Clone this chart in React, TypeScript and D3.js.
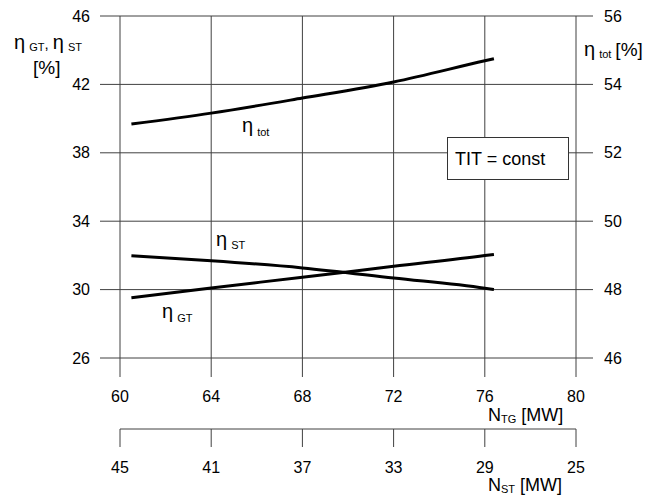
import React from "react";
import * as d3 from "d3";

const ntg = [60.5, 64, 68, 72, 76, 76.4];
const etaTot = [52.84, 53.16, 53.6, 54.07, 54.69, 54.75];
const etaST = [31.98, 31.69, 31.27, 30.68, 30.08, 30.0];
const etaGT = [29.53, 30.1, 30.72, 31.36, 31.99, 32.06];

const xTicks = [60, 64, 68, 72, 76, 80];
const x2Ticks = [45, 41, 37, 33, 29, 25];
const yLeftTicks = [26, 30, 34, 38, 42, 46];
const yRightTicks = [46, 48, 50, 52, 54, 56];

const FONT = "'Liberation Sans', Arial, sans-serif";

export default function App() {
  const x = d3.scaleLinear().domain([60, 80]).range([120, 576]);
  const x2 = d3.scaleLinear().domain([45, 25]).range([120, 576]);
  const yL = d3.scaleLinear().domain([26, 46]).range([358, 16]);
  const yR = d3.scaleLinear().domain([46, 56]).range([358, 16]);

  const lineL = d3
    .line<[number, number]>()
    .x((d) => x(d[0]))
    .y((d) => yL(d[1]))
    .curve(d3.curveMonotoneX);
  const lineR = d3
    .line<[number, number]>()
    .x((d) => x(d[0]))
    .y((d) => yR(d[1]))
    .curve(d3.curveMonotoneX);

  const tot = ntg.map((v, i) => [v, etaTot[i]] as [number, number]);
  const st = ntg.map((v, i) => [v, etaST[i]] as [number, number]);
  const gt = ntg.map((v, i) => [v, etaGT[i]] as [number, number]);

  const grid = "#404040";
  const TICK = 16;

  return (
    <svg
      width={660}
      height={495}
      style={{ position: "absolute", left: 0, top: 0, background: "#fff" }}
      fontFamily={FONT}
    >
      <rect x={0} y={0} width={660} height={495} fill="#fff" />
      {/* horizontal grid */}
      {yLeftTicks.map((t) => (
        <line key={"h" + t} x1={100} x2={593} y1={yL(t)} y2={yL(t)} stroke={grid} strokeWidth={1} />
      ))}
      {/* vertical grid */}
      {xTicks.map((t) => (
        <line key={"v" + t} x1={x(t)} x2={x(t)} y1={16} y2={377} stroke={grid} strokeWidth={1} />
      ))}
      {/* left tick labels */}
      {yLeftTicks.map((t) => (
        <text key={"yl" + t} x={90} y={yL(t) + 5.5} textAnchor="end" fontSize={TICK}>
          {t}
        </text>
      ))}
      {yRightTicks.map((t) => (
        <text key={"yr" + t} x={604} y={yR(t) + 5.5} textAnchor="start" fontSize={TICK}>
          {t}
        </text>
      ))}
      {xTicks.map((t) => (
        <text key={"xl" + t} x={x(t)} y={402} textAnchor="middle" fontSize={TICK}>
          {t}
        </text>
      ))}
      {/* secondary axis */}
      <line x1={x2(45)} x2={x2(25)} y1={429} y2={429} stroke={grid} strokeWidth={1} />
      {x2Ticks.map((t) => (
        <g key={"x2" + t}>
          <line x1={x2(t)} x2={x2(t)} y1={429} y2={447} stroke={grid} strokeWidth={1} />
          <text x={x2(t)} y={473} textAnchor="middle" fontSize={TICK}>
            {t}
          </text>
        </g>
      ))}
      {/* curves */}
      <path d={lineR(tot) || ""} fill="none" stroke="#000" strokeWidth={3} />
      <path d={lineL(st) || ""} fill="none" stroke="#000" strokeWidth={3} />
      <path d={lineL(gt) || ""} fill="none" stroke="#000" strokeWidth={3} />

      {/* curve labels */}
      <text x={242} y={132} fontSize={20}>
        η<tspan dx={4} dy={4} fontSize={11}>tot</tspan>
      </text>
      <text x={216} y={246} fontSize={20}>
        η<tspan dx={4} dy={3} fontSize={11}>ST</tspan>
      </text>
      <text x={162} y={318} fontSize={20}>
        η<tspan dx={4} dy={4} fontSize={11}>GT</tspan>
      </text>

      {/* TIT box */}
      <rect x={447.5} y={137.5} width={121} height={42} fill="#fff" stroke="#333" strokeWidth={1} />
      <text x={455} y={165} fontSize={18}>
        TIT = const
      </text>

      {/* left axis title */}
      <text x={14} y={49} fontSize={20}>
        η<tspan dx={4} dy={2} fontSize={11}>GT</tspan>
        <tspan dy={-2} fontSize={15}>, </tspan>
        <tspan fontSize={20}>η</tspan>
        <tspan dx={4} dy={2} fontSize={11}>ST</tspan>
      </text>
      <text x={33} y={74} fontSize={19}>
        [%]
      </text>

      {/* right axis title */}
      <text x={584} y={56} fontSize={20}>
        η<tspan dx={4} dy={2} fontSize={11}>tot</tspan>
        <tspan dx={4} dy={-2} fontSize={19}>[%]</tspan>
      </text>

      {/* bottom titles */}
      <text x={488} y={421} fontSize={18}>
        N<tspan dy={2} fontSize={11}>TG</tspan>
        <tspan dy={-2} fontSize={18}> [MW]</tspan>
      </text>
      <text x={488} y={491} fontSize={18}>
        N<tspan dy={2} fontSize={11}>ST</tspan>
        <tspan dy={-2} fontSize={18}> [MW]</tspan>
      </text>
    </svg>
  );
}
